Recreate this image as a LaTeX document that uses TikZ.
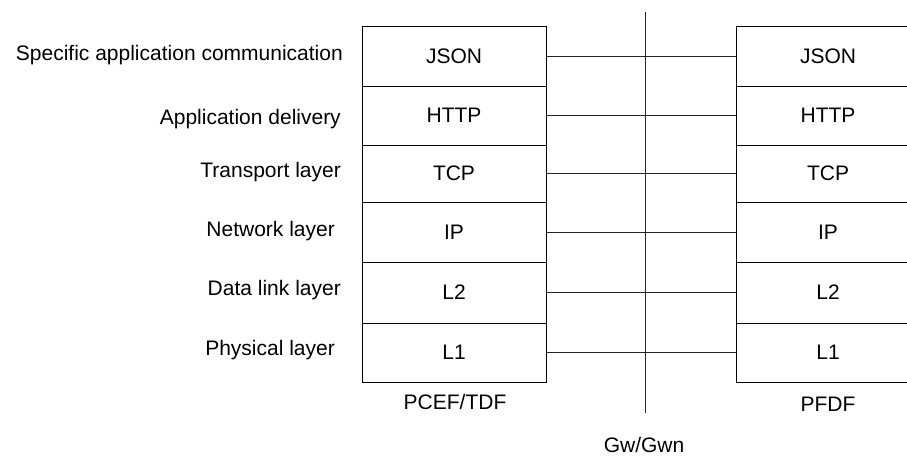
\documentclass[tikz,border=0pt]{standalone}
\usepackage{fontspec}
\setmainfont{Liberation Sans}
\begin{document}
\begin{tikzpicture}[x=1pt,y=-1pt,
  txt/.style={font=\fontsize{21}{25}\selectfont, inner sep=0pt},
  layer/.style={txt, draw, line width=1pt, minimum width=184pt, anchor=center},
  conn/.style={draw, line width=1pt, color=black!85},
  lbl/.style={txt, anchor=east}]
\clip (0,0) rectangle (907,456);
% left stack
\node[layer, minimum height=60pt] (Ljson) at (454,56) {JSON};
\node[layer, minimum height=59pt] (Lhttp) at (454,115.5) {HTTP};
\node[layer, minimum height=57pt] (Ltcp) at (454,173.5) {TCP};
\node[layer, minimum height=60pt] (Lip) at (454,232) {IP};
\node[layer, minimum height=61pt] (Ll2) at (454,292.5) {L2};
\node[layer, minimum height=59pt] (Ll1) at (454,352.5) {L1};
% right stack
\node[layer, minimum height=60pt] (Rjson) at (828,56) {JSON};
\node[layer, minimum height=59pt] (Rhttp) at (828,115.5) {HTTP};
\node[layer, minimum height=57pt] (Rtcp) at (828,173.5) {TCP};
\node[layer, minimum height=60pt] (Rip) at (828,232) {IP};
\node[layer, minimum height=61pt] (Rl2) at (828,292.5) {L2};
\node[layer, minimum height=59pt] (Rl1) at (828,352.5) {L1};
% connectors
\draw[conn] (Ljson.east) -- (Rjson.west);
\draw[conn] (Lhttp.east) -- (Rhttp.west);
\draw[conn] (Ltcp.east) -- (Rtcp.west);
\draw[conn] (Lip.east) -- (Rip.west);
\draw[conn] (Ll2.east) -- (Rl2.west);
\draw[conn] (Ll1.east) -- (Rl1.west);
% interface line
\coordinate (gtop) at (645,12);
\coordinate (gbot) at (645,413);
\draw[conn] (gtop) -- (gbot);
% layer labels
\node[lbl] (t1) at (343,55) {Specific application communication};
\node[lbl] (t2) at (341,119) {Application delivery};
\node[lbl] (t3) at (341,172) {Transport layer};
\node[lbl] (t4) at (335,231) {Network layer};
\node[lbl] (t5) at (341,290) {Data link layer};
\node[lbl] (t6) at (335,350) {Physical layer};
% entity labels
\node[txt] (pcef) at (455,402) {PCEF/TDF};
\node[txt] (pfdf) at (828,404) {PFDF};
\node[txt] (gw) at (644,445) {Gw/Gwn};
\end{tikzpicture}
\end{document}
